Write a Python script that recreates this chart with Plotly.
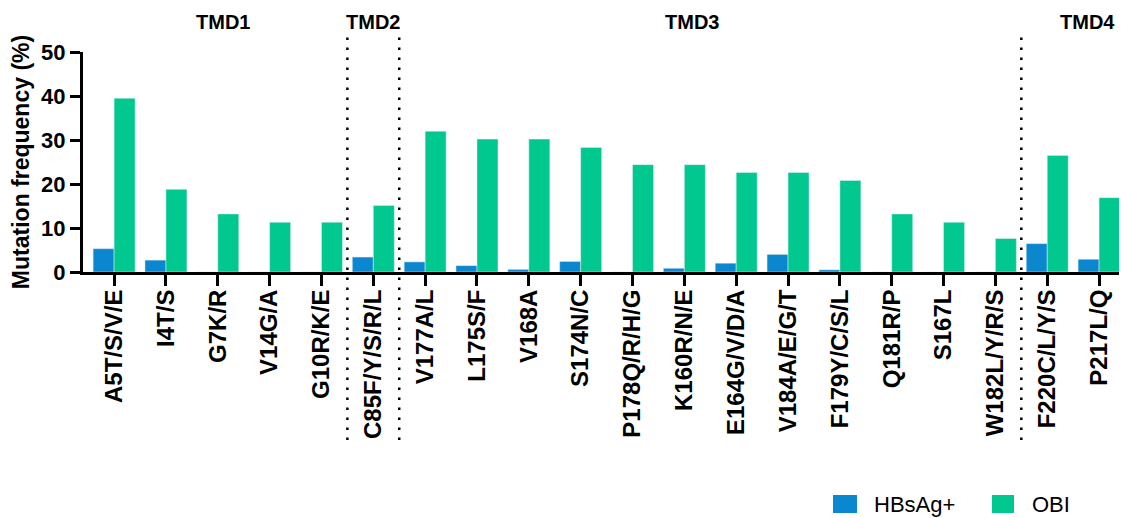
import plotly.graph_objects as go

categories = ["A5T/S/V/E", "I4T/S", "G7K/R", "V14G/A", "G10R/K/E", "C85F/Y/S/R/L",
              "V177A/L", "L175S/F", "V168A", "S174N/C", "P178Q/R/H/G", "K160R/N/E",
              "E164G/V/D/A", "V184A/E/G/T", "F179Y/C/S/L", "Q181R/P", "S167L",
              "W182L/Y/R/S", "F220C/L/Y/S", "P217L/Q"]
hbsag = [5.3, 2.7, 0, 0, 0, 3.4, 2.3, 1.45, 0.6, 2.4, 0, 0.85, 2.0, 4.0, 0.5, 0, 0, 0, 6.45, 2.9]
obi = [39.5, 18.8, 13.2, 11.3, 11.3, 15.1, 32.0, 30.2, 30.2, 28.3, 24.4, 24.4, 22.6, 22.6,
       20.8, 13.2, 11.3, 7.6, 26.5, 16.9]
series_names = ["HBsAg+", "OBI"]
colors = ["#0A87CE", "#00C88F"]
regions = ["TMD1", "TMD2", "TMD3", "TMD4"]
region_label_pos = [2.1, 5.0, 11.15, 18.77]
region_boundaries = [4.5, 5.5, 17.5]

OFF = 8  # page body margin
W, H = 1127 - OFF, 518 - OFF
ML, MR, MT = 83 - OFF, 2, 52 - OFF
plot_h = 220
MB = H - MT - plot_h
plot_w = W - ML - MR
FONT = "Liberation Sans, Arial, sans-serif"


def py2paper(py):
    return (H - MB - (py - OFF)) / plot_h


def px2paper(px):
    return ((px - OFF) - ML) / plot_w


fig = go.Figure()
fig.add_trace(go.Bar(x=categories, y=hbsag, name=series_names[0], marker_color=colors[0],
                     showlegend=False))
fig.add_trace(go.Bar(x=categories, y=obi, name=series_names[1], marker_color=colors[1],
                     showlegend=False))

shapes = []
for b in region_boundaries:
    shapes.append(dict(type="line", xref="x", yref="paper", x0=b, x1=b,
                       y0=py2paper(440), y1=py2paper(37),
                       line=dict(color="black", width=2.5, dash="2.5px,7.5px")))

annotations = []
for name, pos in zip(regions, region_label_pos):
    annotations.append(dict(x=pos, y=py2paper(22), xref="x", yref="paper", text=name,
                            showarrow=False, xanchor="center", yanchor="middle",
                            font=dict(family=FONT, size=20, color="black", weight="bold")))

# custom legend
legend_items = [(833, 857, 872), (992, 1014, 1030)]
for (x0, x1, tx), name, col in zip(legend_items, series_names, colors):
    shapes.append(dict(type="rect", xref="paper", yref="paper",
                       x0=px2paper(x0), x1=px2paper(x1),
                       y0=py2paper(513), y1=py2paper(495),
                       fillcolor=col, line=dict(width=0)))
    annotations.append(dict(x=px2paper(tx), y=py2paper(504), xref="paper", yref="paper",
                            text=name, showarrow=False, xanchor="left", yanchor="middle",
                            font=dict(family=FONT, size=22, color="black")))

fig.update_layout(
    width=W, height=H,
    margin=dict(l=ML, r=MR, t=MT, b=MB),
    paper_bgcolor="white", plot_bgcolor="white",
    barmode="group", bargap=0.19, bargroupgap=0,
    shapes=shapes, annotations=annotations,
    font=dict(family=FONT, color="black"),
)
fig.update_xaxes(
    range=[-0.6, 19.5], tickangle=-90, showgrid=False, zeroline=False,
    showline=True, linecolor="black", linewidth=3,
    ticks="outside", ticklen=11, tickwidth=3, tickcolor="black",
    ticklabelstandoff=-6,
    tickfont=dict(family=FONT, size=24, color="black", weight="bold"),
)
fig.update_yaxes(
    range=[0, 50], tickvals=[0, 10, 20, 30, 40, 50], showgrid=False, zeroline=False,
    showline=True, linecolor="black", linewidth=3,
    ticks="outside", ticklen=10, tickwidth=3, tickcolor="black",
    tickfont=dict(family=FONT, size=22, color="black", weight="bold"),
    title=dict(text="Mutation frequency (%)", standoff=8,
               font=dict(family=FONT, size=23, color="black", weight="bold")),
)

fig.write_html("out.html")
